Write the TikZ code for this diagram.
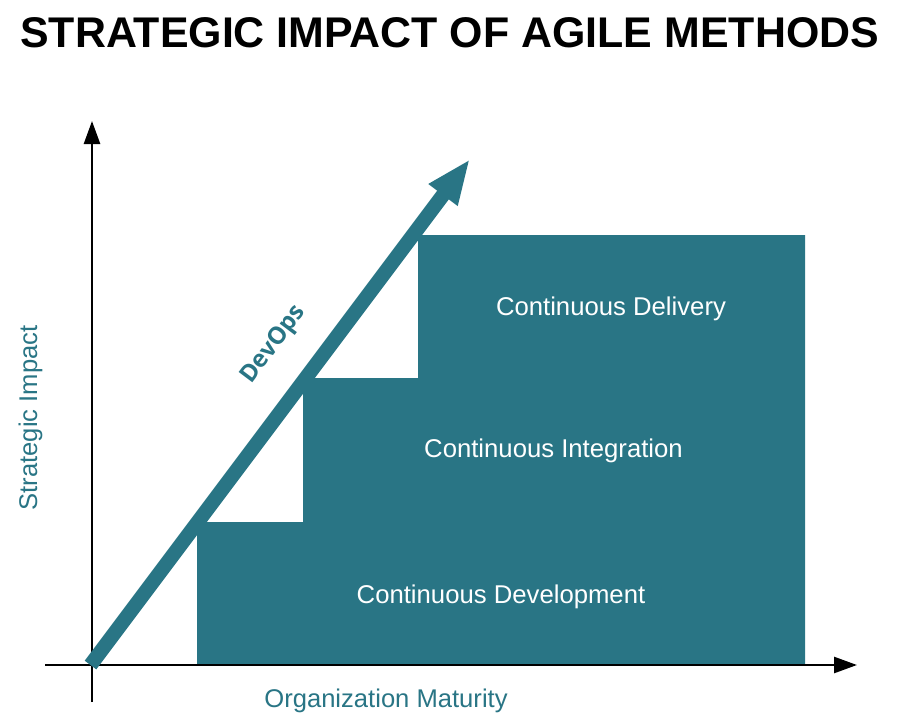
\documentclass[tikz,border=0pt]{standalone}
\usepackage{fontspec}
\setmainfont{Liberation Sans}
\newfontfamily\devfont{Open Sans}
\usetikzlibrary{arrows.meta}
\definecolor{teal}{RGB}{41,117,133}
\tikzset{
  axisline/.style={line width=2.6pt, -{Triangle[length=23pt,width=16pt]}},
  steplabel/.style={anchor=base, text=white, font=\fontsize{25.7}{30}\selectfont, inner sep=0pt},
  axislabel/.style={anchor=base, text=teal, font=\fontsize{25.6}{30}\selectfont, inner sep=0pt},
}
\begin{document}
\begin{tikzpicture}[x=1pt,y=-1pt]
\useasboundingbox (0,0) rectangle (900,721);
% title
\node[anchor=base west, inner sep=0pt, font=\fontsize{42.9}{50}\selectfont\bfseries] (title) at (20,47) {STRATEGIC IMPACT OF AGILE METHODS};
% steps
\fill[teal] (197,665) -- (197,522) -- (303,522) -- (303,378) -- (418,378) -- (418,235) -- (805,235) -- (805,665) -- cycle;
% axes
\coordinate (yb) at (92,702);
\coordinate (yt) at (92,121);
\coordinate (xl) at (45,665);
\coordinate (xr) at (857,665);
\draw[axisline] (yb) -- (yt);
\draw[axisline] (xl) -- (xr);
% devops arrow
\coordinate (ds) at (90.5,665);
\coordinate (de) at (470,159);
\draw[teal, line width=14.5pt, -{Triangle[length=45pt,width=33pt]}] (ds) -- (de);
% labels
\node[steplabel] (cd) at (611,315) {Continuous Delivery};
\node[steplabel] (ci) at (553.5,457) {Continuous Integration};
\node[steplabel] (cdev) at (501,603) {Continuous Development};
\node[axislabel] (xlab) at (386,707) {Organization Maturity};
\node[axislabel, rotate=90] (ylab) at (37,418) {Strategic Impact};
\node[text=teal, rotate=53, inner sep=0pt, font=\devfont\fontsize{24}{28}\selectfont\bfseries] (dev) at (274,345) {DevOps};
\end{tikzpicture}
\end{document}
